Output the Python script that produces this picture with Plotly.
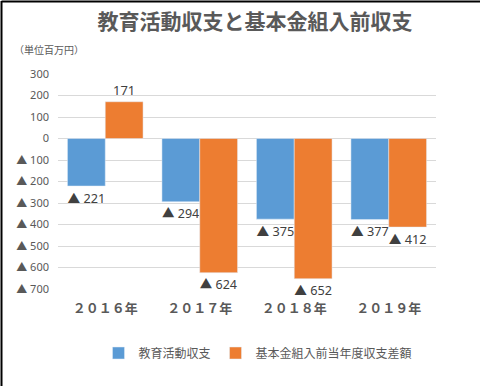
import plotly.graph_objects as go

categories = ["２０１６年", "２０１７年", "２０１８年", "２０１９年"]
edu_balance = [-221, -294, -375, -377]
basic_balance = [171, -624, -652, -412]
series_names = ["教育活動収支", "基本金組入前当年度収支差額"]
y_tick_vals = [300, 200, 100, 0, -100, -200, -300, -400, -500, -600, -700]

def fmt(v):
    return f"▲ {abs(v)}" if v < 0 else f"{v}"

FONT = "Noto Sans, Noto Sans CJK JP, sans-serif"
CJK = "Noto Sans CJK JP, sans-serif"

fig = go.Figure()
fig.add_trace(go.Bar(
    x=categories, y=edu_balance, name=series_names[0],
    marker=dict(color="#5B9BD5"),
    text=[fmt(v) for v in edu_balance], textposition="outside",
    textfont=dict(size=13, color="#404040", family=FONT),
    cliponaxis=False,
))
fig.add_trace(go.Bar(
    x=categories, y=basic_balance, name=series_names[1],
    marker=dict(color="#ED7D31"),
    text=[fmt(v) for v in basic_balance], textposition="outside",
    textfont=dict(size=13, color="#404040", family=FONT),
    cliponaxis=False,
))

fig.update_layout(
    width=480, height=386,
    margin=dict(l=58, r=44, t=74, b=97, autoexpand=False),
    paper_bgcolor="white", plot_bgcolor="white",
    barmode="group", bargap=0.2, bargroupgap=0,
    title=dict(text="<b>教育活動収支と基本金組入前収支</b>",
               font=dict(size=21, color="#595959", family=CJK),
               x=255/480, xanchor="center", xref="container",
               y=1-22/386, yanchor="middle", yref="container"),
    showlegend=True,
    legend=dict(orientation="h", x=258/480, xanchor="center", xref="container",
                y=1-353/386, yanchor="middle", yref="container",
                font=dict(size=12, color="#595959", family=CJK),
                traceorder="normal", itemwidth=30),
    font=dict(family=FONT, color="#595959"),
)
fig.update_yaxes(
    range=[-700, 300], tickvals=y_tick_vals,
    ticktext=[fmt(v) for v in y_tick_vals],
    tickfont=dict(size=11, color="#595959", family=FONT),
    showgrid=True, gridcolor="#D9D9D9", gridwidth=1,
    zeroline=True, zerolinecolor="#D9D9D9", zerolinewidth=1,
    showline=False, ticks="", ticklabelstandoff=8,
)
fig.update_xaxes(
    tickfont=dict(size=13, color="#595959", family=CJK),
    ticks="", showline=False, ticklabelstandoff=10,
    tickvals=categories,
    ticktext=[f"<b>{c}</b>" for c in categories],
)
fig.add_annotation(text="（単位百万円）", xref="paper", yref="paper",
                   x=-46/378, xanchor="left", y=1+(74-50)/215, yanchor="middle",
                   showarrow=False, font=dict(size=10, color="#595959", family=CJK))
# frame lines (left and top)
fig.add_shape(type="line", xref="paper", yref="paper",
              x0=-56.5/378, x1=-56.5/378, y0=-97/215, y1=1+73/215,
              line=dict(color="black", width=2))
fig.add_shape(type="line", xref="paper", yref="paper",
              x0=-56.5/378, x1=1+44/378, y0=1+72.5/215, y1=1+72.5/215,
              line=dict(color="black", width=2))
fig.write_html("out.html", config={"displayModeBar": False},
               post_script="document.body.style.margin='0';")
